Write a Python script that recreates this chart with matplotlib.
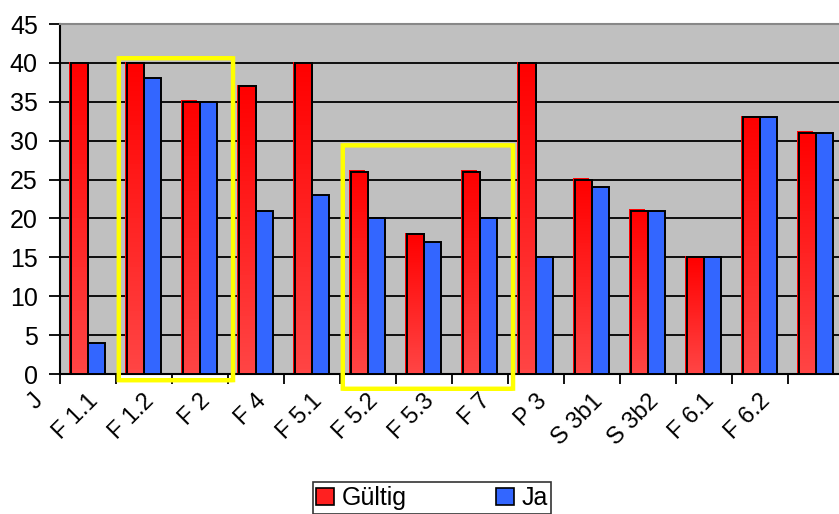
import numpy as np
import matplotlib
matplotlib.use("Agg")
import matplotlib.pyplot as plt
from matplotlib import transforms as mtrans
from matplotlib import patheffects as pe
from matplotlib.patches import FancyBboxPatch, Patch

# ---- data ----
categories = ["J", "F 1.1", "F 1.2", "F 2", "F 4", "F 5.1", "F 5.2", "F 5.3",
              "F 7", "P 3", "S 3b1", "S 3b2", "F 6.1", "F 6.2"]
gueltig = [40, 40, 35, 37, 40, 26, 18, 26, 40, 25, 21, 15, 33, 31]
ja = [4, 38, 35, 21, 23, 20, 17, 20, 15, 24, 21, 15, 33, 31]
series_names = ["Gültig", "Ja"]
yticks = [0, 5, 10, 15, 20, 25, 30, 35, 40, 45]
# highlighted category ranges (first, last, top value, bottom value)
highlights = [(1, 2, 40.6, -0.8), (5, 7, 29.4, -1.9)]

plt.rcParams['font.family'] = ['Liberation Sans', 'DejaVu Sans']
FS = 18
XFS = 17

W, H = 839, 514
fig = plt.figure(figsize=(W / 100, H / 100), dpi=100)
ax = fig.add_axes([60 / W, 1 - 374 / H, 784 / W, 350 / H])
ax.set_facecolor('#C0C0C0')

x = np.arange(len(categories))
bw = 0.295
RED = '#FF2020'
BLUE = '#3366FF'

red_bars = ax.bar(x - bw / 2, gueltig, bw, color=RED, edgecolor='black',
                  linewidth=1.4, zorder=3)
blue_bars = ax.bar(x + bw / 2, ja, bw, color=BLUE, edgecolor='black',
                   linewidth=1.4, zorder=3)
cmap = matplotlib.colors.LinearSegmentedColormap.from_list('r', ['#FF4545', '#FF0000'])
grad = np.linspace(0, 1, 64).reshape(-1, 1)
for b in red_bars:
    b.set_path_effects([pe.SimplePatchShadow(offset=(-1.9, 1.0), shadow_rgbFace='#FF0000',
                                             alpha=1.0), pe.Normal()])
    im = ax.imshow(grad, cmap=cmap, aspect='auto', origin='lower',
                   extent=(b.get_x(), b.get_x() + b.get_width(), 0, b.get_height()),
                   zorder=3.5)
    im.set_clip_path(b)
ax.bar(x - bw / 2, gueltig, bw, fill=False, edgecolor='black', linewidth=1.4, zorder=4)

ax.set_xlim(-0.5, len(categories) - 0.5)
ax.set_ylim(0, 45)
ax.set_yticks(yticks)
ax.set_yticklabels([str(v) for v in yticks], fontsize=FS)
ax.yaxis.grid(True, color='black', linewidth=1.3, zorder=1)
ax.set_axisbelow(True)
ax.tick_params(axis='y', length=8, width=1.3, pad=8, direction='out')
ax.set_xticks(np.arange(len(categories) + 1) - 0.5)
ax.set_xticklabels([])
ax.tick_params(axis='x', length=7, width=1.3, direction='out')

for s in ['left', 'bottom']:
    ax.spines[s].set_color('black')
    ax.spines[s].set_linewidth(1.5)
ax.spines['top'].set_color('#888888')
ax.spines['top'].set_linewidth(1.5)
ax.spines['right'].set_visible(False)

# rotated, clipped category labels
trans = mtrans.blended_transform_factory(ax.transData, ax.transAxes) + \
    mtrans.ScaledTranslation(-0.41, -0.16, fig.dpi_scale_trans)
clip = mtrans.TransformedBbox(mtrans.Bbox([[0, 69 / H], [1, 1]]), fig.transFigure)
for i, lab in enumerate(categories):
    t = ax.text(i, 0, lab, transform=trans, rotation=45, ha='right', va='top',
                fontsize=XFS, clip_on=True)
    t.set_clip_box(clip)

# yellow highlight boxes
for a, b_, top, bot in highlights:
    x0 = a - 0.45
    x1 = b_ + 0.59
    p = FancyBboxPatch((x0, bot), x1 - x0, top - bot,
                       boxstyle='round,pad=0,rounding_size=0.08',
                       facecolor='none', edgecolor='#FFFF00', linewidth=3.2,
                       zorder=6, clip_on=False, mutation_aspect=7.78 / 56)
    ax.add_patch(p)

# legend
handles = [Patch(facecolor=RED, edgecolor='black', linewidth=1.2),
           Patch(facecolor=BLUE, edgecolor='black', linewidth=1.2)]
leg = fig.legend(handles, series_names, loc='center',
                 bbox_to_anchor=(432 / W, 1 - 498 / H), ncol=2, fontsize=FS,
                 frameon=True, fancybox=False, edgecolor='black',
                 handlelength=0.7, handleheight=0.7, handletextpad=0.3,
                 columnspacing=3.6, borderpad=0.15, borderaxespad=0)
leg.get_frame().set_linewidth(1.2)

fig.savefig('out.png', dpi=100)
